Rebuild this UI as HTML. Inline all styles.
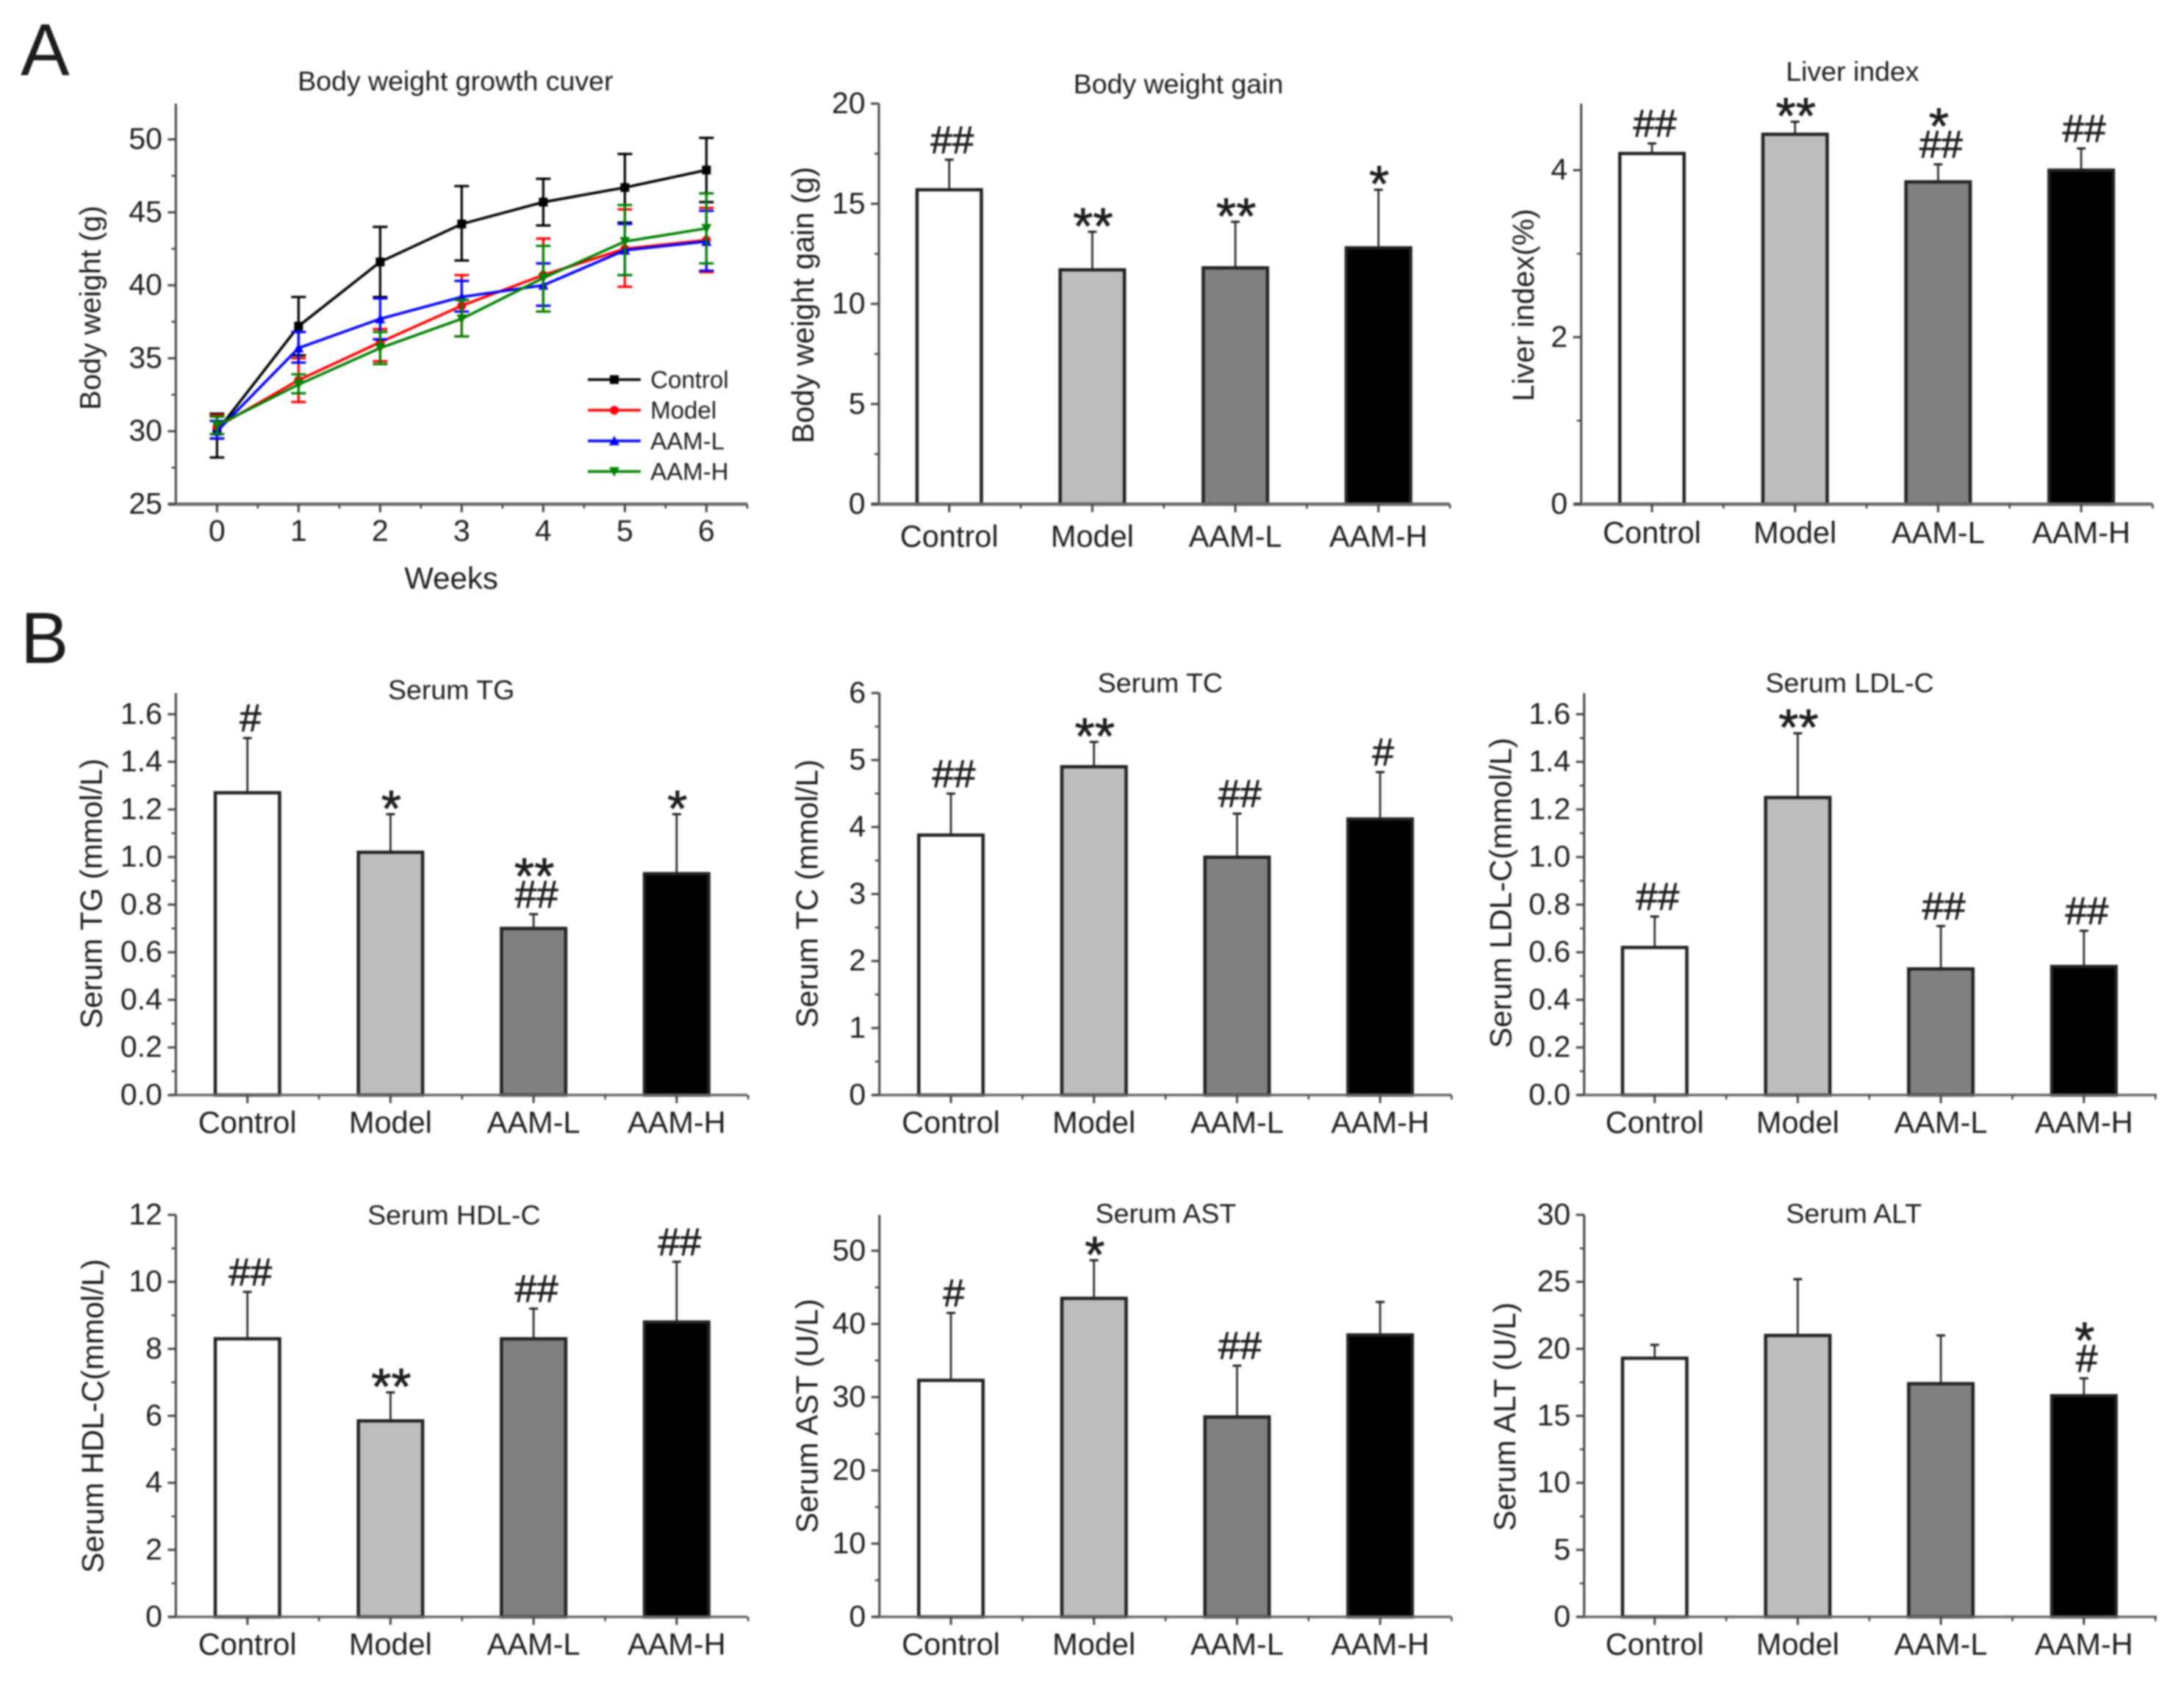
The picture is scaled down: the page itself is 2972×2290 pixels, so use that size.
<!DOCTYPE html>
<html lang="en">
<head>
<meta charset="utf-8">
<title>Body weight and serum biochemistry panels</title>
<style>
html,body{margin:0;padding:0;background:#fff;width:2972px;height:2290px;overflow:hidden}
svg{display:block;filter:blur(1px)}
text{font-family:"Liberation Sans",sans-serif;fill:#1c1c1c}
</style>
</head>
<body>
<svg id="figure" xmlns="http://www.w3.org/2000/svg" width="2972" height="2290" viewBox="0 0 2972 2290">
<rect x="0" y="0" width="2972" height="2290" fill="#ffffff"/>
<text x="28" y="102" font-size="100">A</text>
<text x="28" y="902" font-size="98">B</text>
</svg>
<script>
// ---------- Shared data ----------
const groups = ['Control', 'Model', 'AAM-L', 'AAM-H'];
const weeks = [0, 1, 2, 3, 4, 5, 6];

// ---------- Body weight growth curve ----------
const weightTicks = [25, 30, 35, 40, 45, 50];
const controlWeight = [30.0, 37.2, 41.6, 44.2, 45.7, 46.7, 47.9];
const controlUpper = [31.2, 39.2, 44.0, 46.8, 47.3, 49.0, 50.1];
const controlLower = [28.2, 35.2, 39.2, 41.7, 44.1, 44.3, 45.7];
const modelWeight = [30.3, 33.5, 36.1, 38.6, 40.7, 42.5, 43.1];
const modelUpper = [31.1, 35.0, 37.0, 40.7, 43.2, 45.2, 45.3];
const modelLower = [29.5, 32.0, 34.8, 36.5, 38.2, 39.9, 40.9];
const aamLWeight = [30.0, 35.7, 37.7, 39.2, 40.0, 42.4, 43.0];
const aamLUpper = [30.7, 36.8, 39.1, 40.3, 41.5, 44.2, 45.1];
const aamLLower = [29.5, 34.7, 36.3, 38.2, 38.6, 40.7, 41.0];
const aamHWeight = [30.4, 33.2, 35.7, 37.7, 40.5, 43.0, 43.9];
const aamHUpper = [31.0, 33.9, 36.8, 39.0, 42.7, 45.5, 46.3];
const aamHLower = [29.8, 32.6, 34.6, 36.5, 38.2, 40.7, 41.5];

// ---------- Bar panels: means, upper error limits, significance marks, ticks ----------
const gainTicks = [0, 5, 10, 15, 20];
const gainValues = [15.7, 11.7, 11.8, 12.8];
const gainErrorTops = [17.2, 13.6, 14.1, 15.7];
const gainMarks = [['##'], ['**'], ['**'], ['*']];

const liverTicks = [0, 2, 4];
const liverValues = [4.2, 4.43, 3.86, 4.0];
const liverErrorTops = [4.32, 4.58, 4.07, 4.26];
const liverMarks = [['##'], ['**'], ['*', '##'], ['##']];

const tgTicks = [0, 0.2, 0.4, 0.6, 0.8, 1.0, 1.2, 1.4, 1.6];
const tgValues = [1.27, 1.02, 0.70, 0.93];
const tgErrorTops = [1.50, 1.18, 0.76, 1.18];
const tgMarks = [['#'], ['*'], ['**', '##'], ['*']];

const tcTicks = [0, 1, 2, 3, 4, 5, 6];
const tcValues = [3.88, 4.9, 3.55, 4.12];
const tcErrorTops = [4.5, 5.27, 4.2, 4.82];
const tcMarks = [['##'], ['**'], ['##'], ['#']];

const ldlTicks = [0, 0.2, 0.4, 0.6, 0.8, 1.0, 1.2, 1.4, 1.6];
const ldlValues = [0.62, 1.25, 0.53, 0.54];
const ldlErrorTops = [0.75, 1.52, 0.71, 0.69];
const ldlMarks = [['##'], ['**'], ['##'], ['##']];

const hdlTicks = [0, 2, 4, 6, 8, 10, 12];
const hdlValues = [8.3, 5.85, 8.3, 8.8];
const hdlErrorTops = [9.7, 6.7, 9.2, 10.6];
const hdlMarks = [['##'], ['**'], ['##'], ['##']];

const astTicks = [0, 10, 20, 30, 40, 50];
const astValues = [32.3, 43.5, 27.3, 38.5];
const astErrorTops = [41.5, 48.7, 34.3, 43.0];
const astMarks = [['#'], ['*'], ['##'], []];

const altTicks = [0, 5, 10, 15, 20, 25, 30];
const altValues = [19.3, 21.0, 17.4, 16.5];
const altErrorTops = [20.3, 25.2, 21.0, 17.8];
const altMarks = [[], [], [], ['*', '#']];

// ---------- Drawing ----------
const SVG_NS = 'http://www.w3.org/2000/svg';
const svg = document.getElementById('figure');
const T = 2972 / 1568;
const AXIS_COLOR = '#444444';
const BAR_FILLS = ['#ffffff', '#bdbdbd', '#808080', '#000000'];
const BAR_WIDTH = 87.5;
const BAR_STEP = 194.7;

function make(parent, tag, attrs) {
  const el = document.createElementNS(SVG_NS, tag);
  for (const k in attrs) el.setAttribute(k, attrs[k]);
  parent.appendChild(el);
  return el;
}

function tickLabel(v, decimals) {
  return decimals ? v.toFixed(decimals) : String(v);
}

function drawAxes(g, cfg, ticks, yOf) {
  const yAxis = make(g, 'line', {x1: cfg.left, x2: cfg.left, y1: cfg.top, y2: cfg.bottom, stroke: AXIS_COLOR, 'stroke-width': 3});
  
  
  const xAxis = make(g, 'line', {x1: cfg.left - 10, x2: cfg.right, y1: cfg.bottom, y2: cfg.bottom, stroke: '#666666', 'stroke-width': cfg.axisWidth || 3.5});
  
  
  const step = ticks[1] - ticks[0];
  ticks.forEach(function (v) {
    const y = yOf(v);
    const major = make(g, 'line', {x1: cfg.left - 11, x2: cfg.left, y1: y, y2: y, stroke: AXIS_COLOR, 'stroke-width': 3});
    
    
    const label = make(g, 'text', {x: cfg.left - 18.5, y: y + 13, 'font-size': 41, 'text-anchor': 'end'});
    label.textContent = tickLabel(v, cfg.decimals);
    
    
    const mv = v + step / 2;
    if (yOf(mv) >= cfg.top - 0.5) {
      const minor = make(g, 'line', {x1: cfg.left - 6, x2: cfg.left, y1: yOf(mv), y2: yOf(mv), stroke: AXIS_COLOR, 'stroke-width': 2.5});
      
      
    }
  });
  const title = make(g, 'text', {x: cfg.titleX*T, y: cfg.titleY*T, 'font-size': 37.5, 'text-anchor': 'middle'});
  title.textContent = cfg.title;
  
  
  const yTitle = make(g, 'text', {x: 0, y: 0, 'font-size': cfg.yFont, 'text-anchor': 'middle', transform: 'translate(' + (cfg.yLabelX*T) + ',' + (cfg.yLabelY*T) + ') rotate(-90)'});
  yTitle.textContent = cfg.yLabel;
  
  
}

function drawMarks(g, cx, errTopY, marks) {
  let cursor = errTopY - 9;
  for (let i = marks.length - 1; i >= 0; i--) {
    const m = marks[i];
    const isStar = m.charAt(0) === '*';
    const size = isStar ? 70 : 53;
    const baseline = isStar ? cursor + 25 : cursor;
    const t = make(g, 'text', {x: isStar ? cx + 1 : cx + 4, y: baseline, 'font-size': size, 'text-anchor': 'middle', stroke: '#1c1c1c', 'stroke-width': 0.8});
    t.textContent = m;
    
    
    cursor -= isStar ? 32 : 44;
  }
}

function drawBarPanel(cfg, ticks, values, errorTops, marks) {
  const g = make(svg, 'g', {});
  
  
  const yOf = function (v) { return cfg.bottom - (v / cfg.yMax) * (cfg.bottom - cfg.top); };
  const xOf = function (i) { return cfg.left + cfg.firstBar + i * BAR_STEP; };
  values.forEach(function (v, i) {
    const cx = xOf(i);
    const err = make(g, 'line', {x1: cx, x2: cx, y1: yOf(v), y2: yOf(errorTops[i]), stroke: '#222222', 'stroke-width': 2.6});
    
    
    const cap = make(g, 'line', {x1: cx - 6, x2: cx + 6, y1: yOf(errorTops[i]), y2: yOf(errorTops[i]), stroke: '#222222', 'stroke-width': 3});
    
    
    const bar = make(g, 'rect', {x: cx - BAR_WIDTH / 2, y: yOf(v), width: BAR_WIDTH, height: yOf(0) - yOf(v), fill: BAR_FILLS[i], stroke: '#222222', 'stroke-width': 4.5});
    
    
    drawMarks(g, cx, yOf(errorTops[i]), marks[i]);
  });
  drawAxes(g, cfg, ticks, yOf);
  groups.forEach(function (name, i) {
    const cx = xOf(i);
    const tick = make(g, 'line', {x1: cx, x2: cx, y1: cfg.bottom, y2: cfg.bottom + 11, stroke: AXIS_COLOR, 'stroke-width': 3});
    
    
    const minor = make(g, 'line', {x1: cx + BAR_STEP / 2, x2: cx + BAR_STEP / 2, y1: cfg.bottom, y2: cfg.bottom + 6, stroke: AXIS_COLOR, 'stroke-width': 2.5});
    
    
    const label = make(g, 'text', {x: cx, y: cfg.xLabelY, 'font-size': 41.5, 'text-anchor': 'middle'});
    label.textContent = name;
    
    
  });
}

function drawLinePanel(cfg, ticks, series) {
  const g = make(svg, 'g', {});
  
  
  const yOf = function (v) { return cfg.bottom - ((v - cfg.yMin) / (cfg.yMax - cfg.yMin)) * (cfg.bottom - cfg.top); };
  const xOf = function (w) { return cfg.xZero + w * cfg.xUnit; };
  drawAxes(g, cfg, ticks, yOf);
  weeks.forEach(function (w) {
    const tick = make(g, 'line', {x1: xOf(w), x2: xOf(w), y1: cfg.bottom, y2: cfg.bottom + 11, stroke: AXIS_COLOR, 'stroke-width': 3});
    
    
    const label = make(g, 'text', {x: xOf(w), y: cfg.xLabelY, 'font-size': 41, 'text-anchor': 'middle'});
    label.textContent = String(w);
    
    
    [w + 0.5].forEach(function (mw) {
      const minor = make(g, 'line', {x1: xOf(mw), x2: xOf(mw), y1: cfg.bottom, y2: cfg.bottom + 6, stroke: AXIS_COLOR, 'stroke-width': 2.5});
      
      
    });
  });
  const xTitle = make(g, 'text', {x: cfg.xTitleX*T, y: cfg.xTitleY*T, 'font-size': 42, 'text-anchor': 'middle'});
  xTitle.textContent = cfg.xTitle;
  
  

  series.forEach(function (s) {
    const sg = make(g, 'g', {});
    
    
    s.values.forEach(function (v, i) {
      const cx = xOf(weeks[i]);
      const eb = make(sg, 'line', {x1: cx, x2: cx, y1: yOf(s.upper[i]), y2: yOf(s.lower[i]), stroke: s.color, 'stroke-width': 3.2});
      
      
      const capTop = make(sg, 'line', {x1: cx - 10, x2: cx + 10, y1: yOf(s.upper[i]), y2: yOf(s.upper[i]), stroke: s.color, 'stroke-width': 3.2});
      
      
      const capBottom = make(sg, 'line', {x1: cx - 10, x2: cx + 10, y1: yOf(s.lower[i]), y2: yOf(s.lower[i]), stroke: s.color, 'stroke-width': 3.2});
      
      
    });
    const pts = s.values.map(function (v, i) { return xOf(weeks[i]) + ',' + yOf(v); }).join(' ');
    const line = make(sg, 'polyline', {points: pts, fill: 'none', stroke: s.color, 'stroke-width': 3.6});
    
    
    s.values.forEach(function (v, i) {
      const mk = drawMarker(sg, s.marker, xOf(weeks[i]), yOf(v), s.color);
      
      
    });
  });

  // Legend
  const legend = make(g, 'g', {});
  
  
  series.forEach(function (s, i) {
    const y = (272.5 + i * 22) * T;
    const x1 = 422 * T, x2 = 460 * T;
    const ll = make(legend, 'line', {x1: x1, x2: x2, y1: y, y2: y, stroke: s.color, 'stroke-width': 3.6});
    
    
    const lm = drawMarker(legend, s.marker, (x1 + x2) / 2, y, s.color);
    
    
    const lt = make(legend, 'text', {x: 467 * T, y: y + 11.5, 'font-size': 33});
    lt.textContent = s.name;
    
    
  });
}

function drawMarker(parent, kind, x, y, color) {
  const r = 6;
  if (kind === 'square') return make(parent, 'rect', {x: x - r, y: y - r, width: 2*r, height: 2*r, fill: color});
  if (kind === 'circle') return make(parent, 'circle', {cx: x, cy: y, r: r, fill: color});
  if (kind === 'up') return make(parent, 'polygon', {points: (x) + ',' + (y - r - 1) + ' ' + (x - r - 1) + ',' + (y + r) + ' ' + (x + r + 1) + ',' + (y + r), fill: color});
  return make(parent, 'polygon', {points: (x) + ',' + (y + r + 1) + ' ' + (x - r - 1) + ',' + (y - r) + ' ' + (x + r + 1) + ',' + (y - r), fill: color});
}

// ---------- Panel layouts (frame in page pixels; text anchors in scaled units) ----------
drawLinePanel(
  {left: 239.3, right: 1017, top: 141, bottom: 686, axisWidth: 4.5, yMin: 25, yMax: 52.45, xZero: 295.3, xUnit: 111.0,
   title: 'Body weight growth cuver', titleX: 327, titleY: 65, yLabel: 'Body weight (g)', yFont: 40, yLabelX: 72, yLabelY: 221,
   xLabelY: 736, xTitle: 'Weeks', xTitleX: 324, xTitleY: 422.5},
  weightTicks,
  [
    {name: groups[0], color: '#000000', marker: 'square', values: controlWeight, upper: controlUpper, lower: controlLower},
    {name: groups[1], color: '#ff0000', marker: 'circle', values: modelWeight, upper: modelUpper, lower: modelLower},
    {name: groups[2], color: '#0000ff', marker: 'up', values: aamLWeight, upper: aamLUpper, lower: aamLLower},
    {name: groups[3], color: '#008000', marker: 'down', values: aamHWeight, upper: aamHUpper, lower: aamHLower}
  ]
);

drawBarPanel({left: 1196, right: 1973, top: 141, bottom: 686, axisWidth: 4.5, firstBar: 95.7, yMax: 20, title: 'Body weight gain', titleX: 846, titleY: 67,
  yLabel: 'Body weight gain (g)', yFont: 41.3, yLabelX: 584, yLabelY: 219, xLabelY: 744}, gainTicks, gainValues, gainErrorTops, gainMarks);
drawBarPanel({left: 2151.7, right: 2929, top: 141, bottom: 686, axisWidth: 4.5, firstBar: 96.3, yMax: 4.797, title: 'Liver index', titleX: 1330, titleY: 58,
  yLabel: 'Liver index(%)', yFont: 41, yLabelX: 1101, yLabelY: 219, xLabelY: 739}, liverTicks, liverValues, liverErrorTops, liverMarks);
drawBarPanel({left: 239.3, right: 1017, top: 943, bottom: 1490, firstBar: 97.4, yMax: 1.689, decimals: 1, title: 'Serum TG', titleX: 324, titleY: 502,
  yLabel: 'Serum TG (mmol/L)', yFont: 41.7, yLabelX: 73, yLabelY: 641.5, xLabelY: 1541.7}, tgTicks, tgValues, tgErrorTops, tgMarks);
drawBarPanel({left: 1196.7, right: 1975, top: 943, bottom: 1490, firstBar: 97.3, yMax: 6, title: 'Serum TC', titleX: 833, titleY: 497,
  yLabel: 'Serum TC (mmol/L)', yFont: 41.7, yLabelX: 587, yLabelY: 641.5, xLabelY: 1541.7}, tcTicks, tcValues, tcErrorTops, tcMarks);
drawBarPanel({left: 2155.7, right: 2935, top: 943, bottom: 1490, firstBar: 96, yMax: 1.689, decimals: 1, title: 'Serum LDL-C', titleX: 1328, titleY: 497,
  yLabel: 'Serum LDL-C(mmol/L)', yFont: 42, yLabelX: 1085, yLabelY: 641, xLabelY: 1541.7}, ldlTicks, ldlValues, ldlErrorTops, ldlMarks);
drawBarPanel({left: 239.3, right: 1017, top: 1653, bottom: 2200, firstBar: 97.4, yMax: 12, title: 'Serum HDL-C', titleX: 326, titleY: 879,
  yLabel: 'Serum HDL-C(mmol/L)', yFont: 41.8, yLabelX: 74, yLabelY: 1016.5, xLabelY: 2251.7}, hdlTicks, hdlValues, hdlErrorTops, hdlMarks);
drawBarPanel({left: 1196.7, right: 1975, top: 1653, bottom: 2200, firstBar: 97.3, yMax: 54.9, title: 'Serum AST', titleX: 837, titleY: 878,
  yLabel: 'Serum AST (U/L)', yFont: 42, yLabelX: 587, yLabelY: 1016.5, xLabelY: 2251.7}, astTicks, astValues, astErrorTops, astMarks);
drawBarPanel({left: 2155.7, right: 2935, top: 1653, bottom: 2200, firstBar: 96, yMax: 30, title: 'Serum ALT', titleX: 1331, titleY: 878,
  yLabel: 'Serum ALT (U/L)', yFont: 42, yLabelX: 1088, yLabelY: 1017, xLabelY: 2251.7}, altTicks, altValues, altErrorTops, altMarks);
</script>
</body>
</html>
